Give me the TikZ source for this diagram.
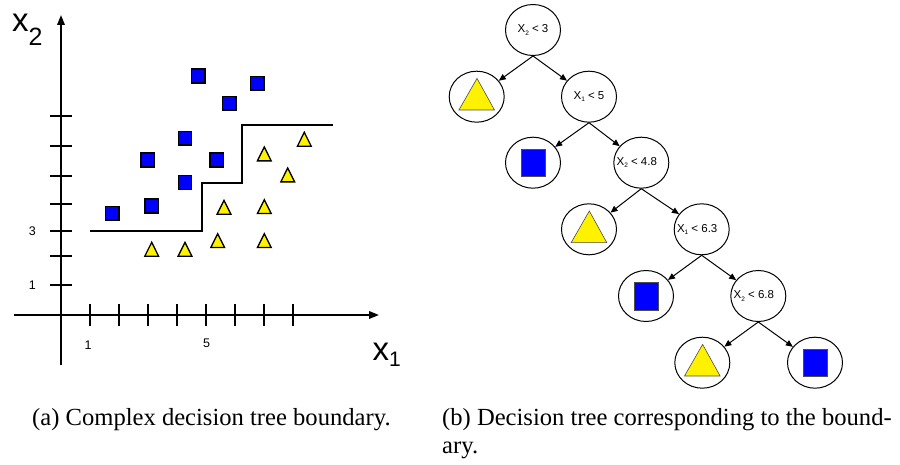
\documentclass[tikz,border=0pt]{standalone}
\usepackage{fontspec}
\setmainfont{Liberation Serif}
\newfontfamily\arialf{Liberation Sans}
\usetikzlibrary{shapes.geometric,arrows.meta}
\newcommand\tsub[1]{\raisebox{-2.2pt}{\fontsize{6.5}{7}\selectfont #1}}
\begin{document}
\begin{tikzpicture}[x=1pt,y=-1pt,
  axisline/.style={line width=1.8pt,-{Triangle[length=10pt,width=7.5pt]}},
  tickline/.style={line width=1.8pt},
  bndline/.style={line width=1.7pt},
  ticklbl/.style={font=\arialf\fontsize{12.5}{12.5}\selectfont,inner sep=0pt},
  bigsq/.pic={\draw[line width=1.4pt,fill=blue] (-6.6,-6.9) rectangle (6.6,6.9);},
  bigtri/.pic={\draw[line width=1.3pt,fill=yellow,line join=miter] (-6.9,6.9) -- (0,-7) -- (6.9,6.9) -- cycle;},
  leafsq/.pic={\draw[line width=0.6pt,draw=black!70,fill=blue] (-12.2,-13.5) rectangle (12.4,13.8);},
  leaftri/.pic={\draw[line width=0.6pt,draw=black!70,fill=yellow] (-17.8,13.3) -- (0.3,-18.3) -- (17.8,13.3) -- cycle;},
  tnode/.style={ellipse,draw,line width=1pt,minimum width=55pt,minimum height=51pt,inner sep=0pt,
    font=\arialf\fontsize{11.5}{12}\selectfont},
  tarrow/.style={line width=1pt,-{Triangle[length=7pt,width=6pt]}},
  captxt/.style={font=\fontsize{24.6}{29}\selectfont,inner sep=0pt,anchor=base west}
]
\useasboundingbox (0,0) rectangle (900,465);

% ---------- left panel: axes ----------
\coordinate (yb) at (61,365);
\coordinate (yt) at (61,15);
\coordinate (xl) at (14,315);
\coordinate (xr) at (379,315);
\draw[axisline] (yb) -- (yt);
\draw[axisline] (xl) -- (xr);

\foreach \tx in {90,119,148,176.7,205.7,235,264,292.7}
  \draw[tickline] (\tx,304) -- (\tx,326);
\foreach \ty in {285,256,230.7,204.3,175.7,145.7,116}
  \draw[tickline] (50,\ty) -- (72,\ty);

\node[ticklbl] (lx1) at (88,345.5) {1};
\node[ticklbl] (lx5) at (206.7,343) {5};
\node[ticklbl] (ly3) at (32.3,230.7) {3};
\node[ticklbl] (ly1) at (32.3,285.7) {1};

\node[inner sep=0pt,anchor=base west,font=\arialf] (xtwo) at (12,32)
  {\fontsize{33}{33}\selectfont x\raisebox{-14pt}{\fontsize{25}{25}\selectfont 2}};
\node[inner sep=0pt,anchor=base west,font=\arialf] (xone) at (372.5,360)
  {\fontsize{33}{33}\selectfont x\raisebox{-6pt}{\fontsize{21}{21}\selectfont 1}};

% boundary
\draw[bndline] (90,230.7) -- (201.7,230.7) -- (201.7,182.7) -- (242.3,182.7)
  -- (242.3,125) -- (332.7,125);

% squares
\foreach \px/\py in {198.3/76,257.3/83.3,229.3/103.3,185/138.3,147.7/160,216.7/160,185/182.7,151.7/206,112.3/213.3}
  \pic at (\px,\py) {bigsq};
% triangles
\foreach \px/\py in {304.3/139.3,264.3/154,287.7/175,224/207.3,264.3/206.7,217.7/240.7,264.3/240.7,151.7/249.3,185/249.3}
  \pic at (\px,\py) {bigtri};

% ---------- right panel: tree ----------
\node[tnode] (r)  at (533,30)      {X\tsub{2} < 3};
\node[tnode] (l1) at (476.7,96.7)  {};
\node[tnode] (n1) at (589,96.7)    {X\tsub{1} < 5};
\node[tnode] (l2) at (533,162.7)   {};
\node[tnode] (n2) at (641.3,162.7) {\hspace*{-9pt}X\tsub{2} < 4.8};
\node[tnode] (l3) at (589,229.3)   {};
\node[tnode] (n3) at (701.7,229.3) {\hspace*{-9pt}X\tsub{1} < 6.3};
\node[tnode] (l4) at (646,296)     {};
\node[tnode] (n4) at (758.3,296)   {\hspace*{-9pt}X\tsub{2} < 6.8};
\node[tnode] (l5) at (702.3,362.7) {};
\node[tnode] (l6) at (815,362.7)   {};

\pic at (l1.center) {leaftri};
\pic at (l2.center) {leafsq};
\pic at (l3.center) {leaftri};
\pic at (l4.center) {leafsq};
\pic at (l5.center) {leaftri};
\pic at (l6.center) {leafsq};

\draw[tarrow] (r.south)  -- (l1);
\draw[tarrow] (r.south)  -- (n1);
\draw[tarrow] (n1.south) -- (l2);
\draw[tarrow] (n1.south) -- (n2);
\draw[tarrow] (n2.south) -- (l3);
\draw[tarrow] (n2.south) -- (n3);
\draw[tarrow] (n3.south) -- (l4);
\draw[tarrow] (n3.south) -- (n4);
\draw[tarrow] (n4.south) -- (l5);
\draw[tarrow] (n4.south) -- (l6);

% ---------- captions ----------
\node[captxt] (capa) at (32,425) {(a) Complex decision tree boundary.};
\node[captxt] (capb) at (442,425) {(b) Decision tree corresponding to the bound-};
\node[captxt] (capc) at (442,453) {ary.};
\end{tikzpicture}
\end{document}
